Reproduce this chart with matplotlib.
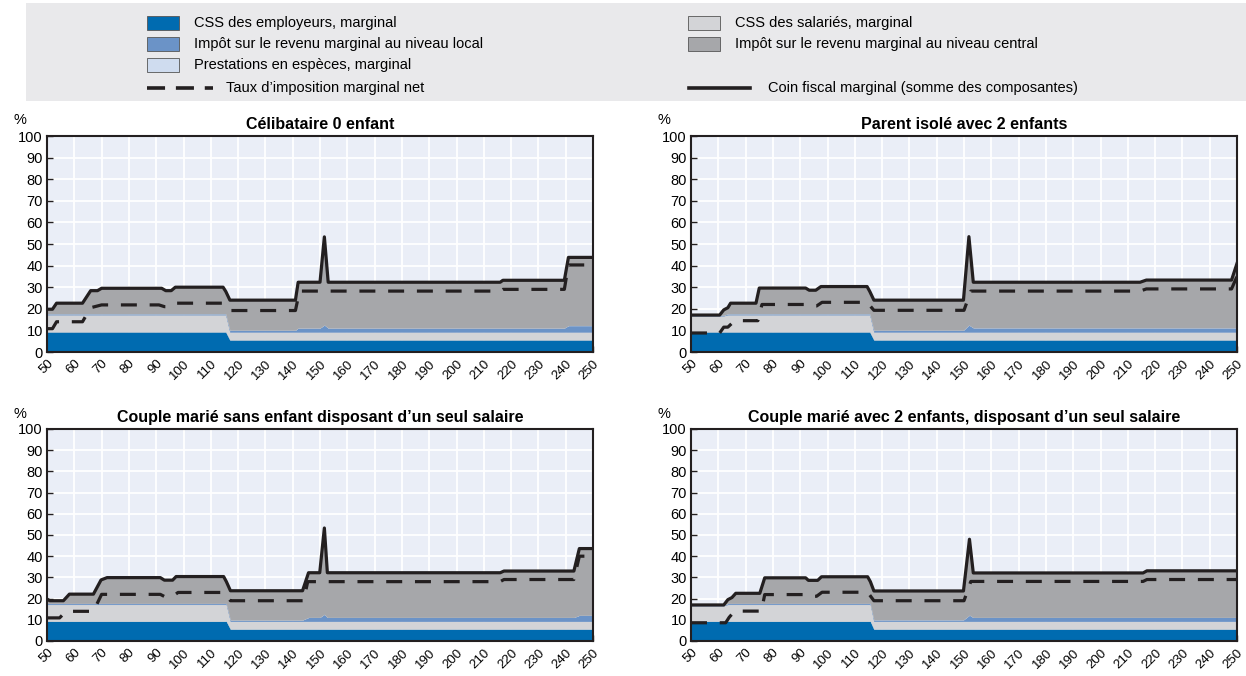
import numpy as np
import matplotlib
matplotlib.use("Agg")
import matplotlib.pyplot as plt
from matplotlib.patches import Rectangle
from matplotlib.lines import Line2D
from matplotlib import font_manager

names = {f.name for f in font_manager.fontManager.ttflist}
fam = 'Liberation Sans Narrow' if 'Liberation Sans Narrow' in names else 'Liberation Sans'
plt.rcParams['font.family'] = [fam, 'DejaVu Sans']

ticks = list(range(50, 260, 10))

titles = ["Célibataire 0 enfant",
          "Parent isolé avec 2 enfants",
          "Couple marié sans enfant disposant d\u2019un seul salaire",
          "Couple marié avec 2 enfants, disposant d\u2019un seul salaire"]

# Célibataire 0 enfant
single_x = [50, 52, 53.5, 63, 66, 68.5, 70, 92, 93.5, 95.5, 97, 114.5, 115.5,
            117, 141, 142, 150, 151.6, 153, 216, 217, 239.5, 241, 250]
single_total = [19.8, 19.8, 22.6, 22.6, 28.4, 28.4, 29.5, 29.5, 28.4, 28.4, 30.0, 30.0, 28.0,
                24.0, 24.0, 32.3, 32.3, 53.3, 32.3, 32.3, 33.2, 33.2, 43.8, 43.8]
single_emp = [9.3, 9.3, 9.3, 9.3, 9.3, 9.3, 9.3, 9.3, 9.3, 9.3, 9.3, 9.3, 9.3,
              5.6, 5.6, 5.6, 5.6, 5.6, 5.6, 5.6, 5.6, 5.6, 5.6, 5.6]
single_empl = [8.0, 8.0, 8.0, 8.0, 8.0, 8.0, 8.0, 8.0, 8.0, 8.0, 8.0, 8.0, 8.0,
               3.7, 3.7, 3.7, 3.7, 3.7, 3.7, 3.7, 3.7, 3.7, 3.7, 3.7]
single_local = [0.5, 0.5, 0.5, 0.5, 0.5, 0.5, 0.5, 0.5, 0.5, 0.5, 0.5, 0.5, 0.5,
                0.9, 0.9, 1.9, 1.9, 3.3, 1.9, 1.9, 1.9, 1.9, 3.0, 3.0]
single_net_x = [50, 52, 53.5, 63, 66, 70, 91, 93, 95.5, 97.5, 114.5, 117, 141, 142.5,
                216, 217, 239.5, 241, 250]
single_net = [10.8, 10.8, 14.0, 14.0, 20.5, 21.8, 21.8, 21.0, 21.0, 22.6, 22.6, 19.2, 19.2, 28.2,
              28.2, 29.0, 29.0, 40.3, 40.3]

# Parent isolé avec 2 enfants
par_x = [50, 60.5, 62, 63.5, 64.5, 73.8, 75, 92, 93.3, 95.7, 97.6, 114.5, 115.5,
         117, 149.8, 151.8, 153.4, 214.5, 216.8, 248, 250]
par_total = [17.1, 17.1, 19.5, 20.5, 22.6, 22.6, 29.6, 29.6, 28.6, 28.6, 30.3, 30.3, 28.0,
             24.0, 24.0, 53.4, 32.3, 32.3, 33.3, 33.3, 41.0]
par_emp = [9.3, 9.3, 9.3, 9.3, 9.3, 9.3, 9.3, 9.3, 9.3, 9.3, 9.3, 9.3, 9.3,
           5.6, 5.6, 5.6, 5.6, 5.6, 5.6, 5.6, 5.6]
par_empl = [7.5, 7.5, 7.5, 8.0, 8.0, 8.0, 8.0, 8.0, 8.0, 8.0, 8.0, 8.0, 8.0,
            3.7, 3.7, 3.7, 3.7, 3.7, 3.7, 3.7, 3.7]
par_local = [0.3, 0.3, 0.3, 0.5, 0.5, 0.5, 0.5, 0.5, 0.5, 0.5, 0.5, 0.5, 0.5,
             0.9, 0.9, 3.3, 2.0, 2.0, 2.0, 2.0, 2.0]
par_net_x = [50, 60.5, 62, 63.5, 66, 74.5, 76, 92, 93.5, 96, 98, 114.5, 117, 150, 152.5,
             214.5, 216.8, 248, 250]
par_net = [8.8, 8.8, 11.5, 11.5, 14.5, 14.5, 22.0, 22.0, 21.3, 21.3, 23.0, 23.0, 19.3, 19.3, 28.2,
           28.2, 29.2, 29.2, 35.0]

# Couple marié sans enfant disposant d'un seul salaire
cpl_x = [50, 51, 56, 58.2, 67, 69.8, 72, 91.5, 93, 96, 97.3, 114.7, 115.7,
         117.2, 143.6, 145.8, 149.9, 151.6, 152.7, 216, 217.4, 243, 245, 250]
cpl_total = [19.8, 19.0, 19.0, 22.1, 22.1, 28.8, 29.9, 29.9, 28.7, 28.7, 30.4, 30.4, 28.0,
             23.7, 23.7, 32.2, 32.2, 53.3, 32.2, 32.2, 33.0, 33.0, 43.6, 43.6]
cpl_emp = [9.3, 9.3, 9.3, 9.3, 9.3, 9.3, 9.3, 9.3, 9.3, 9.3, 9.3, 9.3, 9.3,
           5.6, 5.6, 5.6, 5.6, 5.6, 5.6, 5.6, 5.6, 5.6, 5.6, 5.6]
cpl_empl = [8.0, 8.0, 8.0, 8.0, 8.0, 8.0, 8.0, 8.0, 8.0, 8.0, 8.0, 8.0, 8.0,
            3.7, 3.7, 3.7, 3.7, 3.7, 3.7, 3.7, 3.7, 3.7, 3.7, 3.7]
cpl_local = [0.5, 0.5, 0.5, 0.5, 0.5, 0.5, 0.5, 0.5, 0.5, 0.5, 0.5, 0.5, 0.5,
             0.7, 0.7, 1.9, 1.9, 3.4, 1.9, 1.9, 1.9, 1.9, 2.9, 2.9]
cpl_net_x = [50, 54.6, 57, 67, 70, 91.5, 93, 96, 98, 114.7, 117.2, 144, 145.5,
             216, 217.4, 243, 245, 250]
cpl_net = [10.9, 10.9, 14.0, 14.0, 22.0, 22.0, 21.0, 21.0, 22.9, 22.9, 19.0, 19.0, 28.0,
           28.0, 29.0, 29.0, 40.0, 40.0]

# Couple marié avec 2 enfants, disposant d'un seul salaire
ck_x = [50, 62, 63.5, 65, 66.4, 75.2, 77, 92, 93, 96.4, 97.8, 114.7, 115.7,
        117, 149.8, 152, 153.4, 215.6, 217, 250]
ck_total = [17.0, 17.0, 19.5, 20.5, 22.5, 22.5, 29.8, 29.8, 28.6, 28.6, 30.3, 30.3, 28.0,
            23.6, 23.6, 48.0, 32.1, 32.1, 33.1, 33.1]
ck_emp = [9.3, 9.3, 9.3, 9.3, 9.3, 9.3, 9.3, 9.3, 9.3, 9.3, 9.3, 9.3, 9.3,
          5.6, 5.6, 5.6, 5.6, 5.6, 5.6, 5.6]
ck_empl = [7.4, 7.4, 8.0, 8.0, 8.0, 8.0, 8.0, 8.0, 8.0, 8.0, 8.0, 8.0, 8.0,
           3.7, 3.7, 3.7, 3.7, 3.7, 3.7, 3.7]
ck_local = [0.3, 0.3, 0.5, 0.5, 0.5, 0.5, 0.5, 0.5, 0.5, 0.5, 0.5, 0.5, 0.5,
            0.8, 0.8, 3.0, 1.9, 1.9, 1.9, 1.9]
ck_net_x = [50, 62.7, 64, 66, 75.8, 77, 92, 93.5, 96, 98, 114.7, 117, 150, 152.5,
            215.6, 217, 250]
ck_net = [8.6, 8.6, 11.2, 14.1, 14.1, 21.9, 21.9, 21.1, 21.1, 23.0, 23.0, 19.0, 19.0, 28.1,
          28.1, 29.0, 29.0]

EMP = '#006BB0'
EMPL = '#D3D4D7'
LOCAL = '#6B93C7'
BEN = '#CFDCEF'
CENTRAL = '#A6A7AA'
LINE = '#231F20'
AXBG = '#EAEEF7'

W, H = 1246, 676
fig = plt.figure(figsize=(W / 100, H / 100), dpi=100)


def fx(px):
    return px / W


def fy(py):
    return 1 - py / H


def draw(ax, title, x, emp, empl, local, total, nx, net):
    x = np.asarray(x, dtype=float)
    emp = np.asarray(emp)
    empl = np.asarray(empl)
    local = np.asarray(local)
    total = np.asarray(total)
    benefits = np.zeros(len(x))  # nothing visible for cash benefits
    central = total - emp - empl - local - benefits
    ax.set_facecolor(AXBG)
    ax.stackplot(x, emp, empl, local, benefits, central,
                 colors=[EMP, EMPL, LOCAL, BEN, CENTRAL], linewidth=0.3, edgecolor='face')
    ax.plot(x, total, color=LINE, lw=2.3, solid_joinstyle='round')
    ax.plot(nx, net, color=LINE, lw=2.3, ls=(0, (5, 4)))
    ax.set_xlim(50, 250)
    ax.set_ylim(0, 100)
    ax.set_xticks(ticks)
    ax.set_yticks(range(0, 101, 10))
    ax.set_xticklabels([str(t) for t in ticks], rotation=45, ha='right', rotation_mode='anchor')
    ax.tick_params(direction='in', length=4, width=1, labelsize=10.5, color=LINE, pad=3)
    ax.tick_params(axis='x', labelsize=9.5, pad=4)
    ax.grid(True, color='white', lw=1.3)
    ax.set_axisbelow(True)
    for s in ax.spines.values():
        s.set_linewidth(1.5)
        s.set_color(LINE)
    ax.set_title(title, fontweight='bold', fontsize=11.5, pad=5)
    ax.text(-0.05, 1.04, '%', transform=ax.transAxes, ha='center', va='bottom', fontsize=10.5)


axw = 546 / W
pos = [(fx(47), fy(352), axw, 216 / H),
       (fx(691), fy(352), axw, 216 / H),
       (fx(47), fy(641), axw, 212 / H),
       (fx(691), fy(641), axw, 212 / H)]
panels = [(single_x, single_emp, single_empl, single_local, single_total, single_net_x, single_net),
          (par_x, par_emp, par_empl, par_local, par_total, par_net_x, par_net),
          (cpl_x, cpl_emp, cpl_empl, cpl_local, cpl_total, cpl_net_x, cpl_net),
          (ck_x, ck_emp, ck_empl, ck_local, ck_total, ck_net_x, ck_net)]

for p, t, d in zip(pos, titles, panels):
    ax = fig.add_axes(p)
    draw(ax, t, *d)

# legend box
fig.add_artist(Rectangle((fx(26), fy(101)), 1 - fx(26), 98 / H, transform=fig.transFigure,
                         facecolor='#E9E9EB', edgecolor='none', zorder=0))

patch_items = [(147, 23, EMP, "CSS des employeurs, marginal"),
               (147, 44, LOCAL, "Impôt sur le revenu marginal au niveau local"),
               (147, 65, BEN, "Prestations en espèces, marginal"),
               (688, 23, EMPL, "CSS des salariés, marginal"),
               (688, 44, CENTRAL, "Impôt sur le revenu marginal au niveau central")]
for px, py, c, lab in patch_items:
    fig.add_artist(Rectangle((fx(px), fy(py + 7)), 32 / W, 14 / H, transform=fig.transFigure,
                             facecolor=c, edgecolor='#555555', lw=0.6))
    fig.text(fx(px + 47), fy(py), lab, va='center', ha='left', fontsize=10.5)

fig.add_artist(Line2D([fx(147), fx(213)], [fy(88), fy(88)], transform=fig.transFigure,
                      color=LINE, lw=2.6, ls=(0, (5, 3))))
fig.text(fx(226), fy(88), "Taux d\u2019imposition marginal net", va='center', ha='left', fontsize=10.5)
fig.add_artist(Line2D([fx(689), fx(750)], [fy(88), fy(88)], transform=fig.transFigure,
                      color=LINE, lw=2.6))
fig.text(fx(768), fy(88), "Coin fiscal marginal (somme des composantes)", va='center', ha='left',
         fontsize=10.5)

fig.savefig("out.png", dpi=100)
